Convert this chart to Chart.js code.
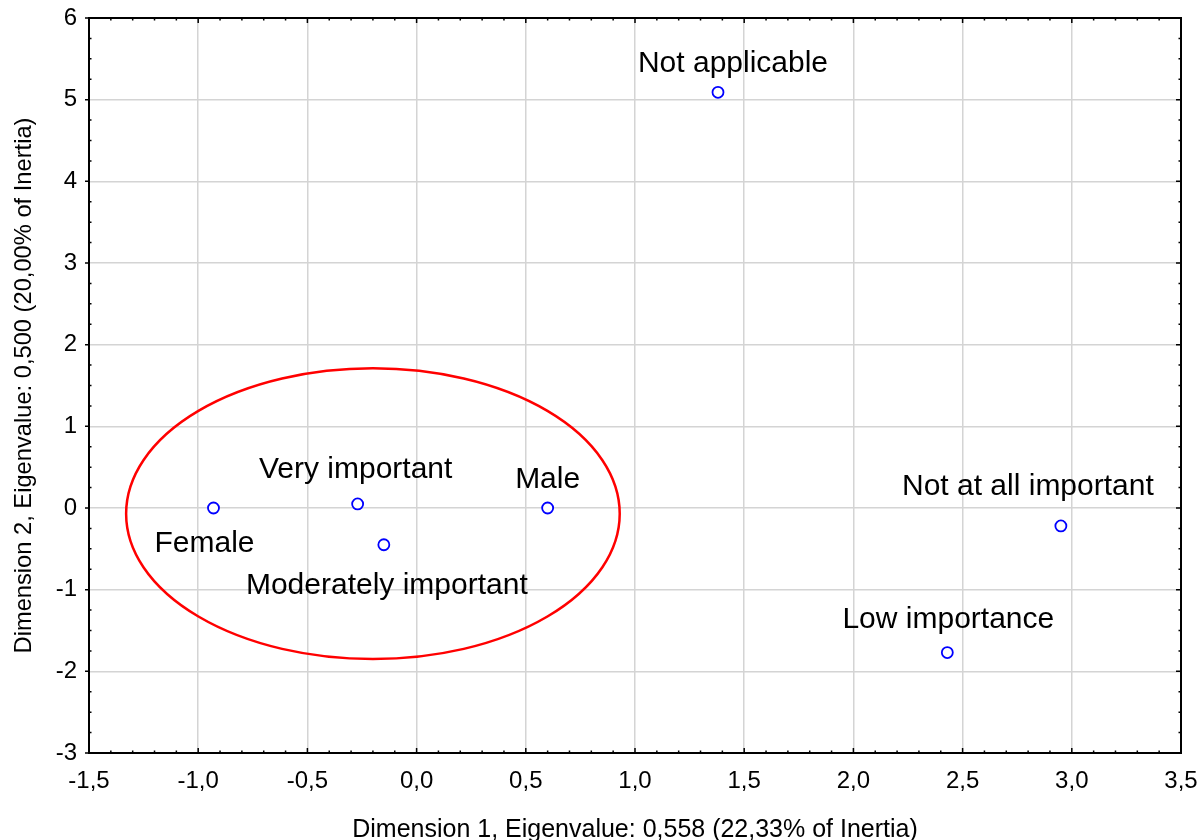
<!DOCTYPE html>
<html>
<head>
<meta charset="utf-8">
<script src="https://cdn.jsdelivr.net/npm/chart.js@4.4.1/dist/chart.umd.min.js"></script>
<style>
  html, body { margin: 0; padding: 0; background: #fff; }
  #wrap { width: 1201px; height: 840px; }
</style>
</head>
<body>
<div id="wrap"><canvas id="myChart"></canvas></div>
<script>
// Correspondence analysis coordinates
const categories = ['Female', 'Very important', 'Moderately important', 'Male',
    'Not applicable', 'Not at all important', 'Low importance'];
const dim1 = [-0.93, -0.27, -0.15, 0.60, 1.38, 2.95, 2.43];
const dim2 = [0.00, 0.05, -0.45, 0.00, 5.09, -0.22, -1.77];

// the red ellipse around the first group (axis units)
const ellipseCenter = [-0.20, -0.07];
const ellipseRadius = [1.13, 1.78];

const xTitle = 'Dimension 1, Eigenvalue: 0,558 (22,33% of Inertia)';
const yTitle = 'Dimension 2, Eigenvalue: 0,500 (20,00% of Inertia)';

// where each point label sits relative to its marker (px, text baseline)
const labelOffsets = [[-9, 44], [-2, -26], [3, 49], [0, -20], [15, -20], [-33, -31], [1, -25]];

const FONT = '"Liberation Sans", Arial, sans-serif';
Chart.defaults.font.family = FONT;
Chart.defaults.color = '#000';

const extras = {
    id: 'extras',
    beforeDatasetsDraw(chart) {
        const { ctx, scales: { x, y } } = chart;
        const cx = x.getPixelForValue(ellipseCenter[0]);
        const cy = y.getPixelForValue(ellipseCenter[1]);
        const rx = x.getPixelForValue(ellipseCenter[0] + ellipseRadius[0]) - cx;
        const ry = cy - y.getPixelForValue(ellipseCenter[1] + ellipseRadius[1]);
        ctx.save();
        ctx.strokeStyle = '#ff0000';
        ctx.lineWidth = 2.5;
        ctx.beginPath();
        ctx.ellipse(cx, cy, rx, ry, 0, 0, Math.PI * 2);
        ctx.stroke();
        ctx.restore();
    },
    afterDatasetsDraw(chart) {
        const { ctx, chartArea: a, scales: { x, y } } = chart;
        ctx.save();

        // point labels
        ctx.font = '30px ' + FONT;
        ctx.fillStyle = '#000';
        ctx.textAlign = 'center';
        ctx.textBaseline = 'alphabetic';
        chart.getDatasetMeta(0).data.forEach((pt, i) => {
            const [dx, dy] = labelOffsets[i];
            ctx.fillText(categories[i], pt.x + dx, pt.y + dy);
        });

        // frame
        ctx.strokeStyle = '#000';
        ctx.lineWidth = 2;
        ctx.strokeRect(a.left, a.top, a.right - a.left, a.bottom - a.top);

        // major + minor ticks
        ctx.lineWidth = 1.5;
        ctx.beginPath();
        const nx = Math.round((x.max - x.min) / 0.1);
        for (let i = 0; i <= nx; i++) {
            const px = x.getPixelForValue(x.min + i * 0.1);
            const len = i % 5 === 0 ? 5 : 2.5;
            ctx.moveTo(px, a.bottom); ctx.lineTo(px, a.bottom - len);
            ctx.moveTo(px, a.top); ctx.lineTo(px, a.top + len);
        }
        const ny = Math.round((y.max - y.min) / 0.25);
        for (let i = 0; i <= ny; i++) {
            const py = y.getPixelForValue(y.min + i * 0.25);
            if (i % 4 === 0) {
                ctx.moveTo(a.left - 4, py); ctx.lineTo(a.left, py);
                ctx.moveTo(a.right, py); ctx.lineTo(a.right - 5, py);
            } else {
                ctx.moveTo(a.left, py); ctx.lineTo(a.left + 2.5, py);
                ctx.moveTo(a.right, py); ctx.lineTo(a.right - 2.5, py);
            }
        }
        ctx.stroke();
        ctx.restore();
    }
};

const ctx = document.getElementById('myChart').getContext('2d');
const myChart = new Chart(ctx, {
    type: 'scatter',
    data: {
        datasets: [{
            data: categories.map((c, i) => ({ x: dim1[i], y: dim2[i] })),
            pointRadius: 5.5,
            pointHoverRadius: 5.5,
            borderWidth: 1.8,
            borderColor: '#0000ff',
            backgroundColor: '#ffffff'
        }]
    },
    options: {
        responsive: true,
        maintainAspectRatio: false,
        animation: false,
        layout: { padding: { top: 18, right: 20, bottom: 0, left: 0 } },
        plugins: {
            legend: { display: false },
            tooltip: { enabled: false }
        },
        scales: {
            x: {
                type: 'linear',
                min: -1.5,
                max: 3.5,
                ticks: {
                    stepSize: 0.5,
                    padding: 14,
                    maxRotation: 0,
                    autoSkip: false,
                    font: { size: 24 },
                    callback: v => v.toFixed(1).replace('.', ',')
                },
                grid: { color: '#d4d4d4', lineWidth: 1.5, drawTicks: false },
                border: { display: false },
                title: {
                    display: true,
                    text: xTitle,
                    font: { size: 25, lineHeight: 0.8 },
                    padding: 0
                },
                afterFit: s => { s.height = 87; s.paddingLeft = 0; s.paddingRight = 0; }
            },
            y: {
                type: 'linear',
                min: -3,
                max: 6,
                ticks: {
                    stepSize: 1,
                    padding: 12,
                    font: { size: 24 }
                },
                grid: { color: '#d4d4d4', lineWidth: 1.5, drawTicks: false },
                border: { display: false },
                title: {
                    display: true,
                    text: yTitle,
                    font: { size: 23.7 },
                    padding: { top: 10, bottom: 0 }
                },
                afterFit: s => { s.width = 89; s.paddingTop = 0; s.paddingBottom = 0; }
            }
        }
    },
    plugins: [extras]
});
</script>
</body>
</html>
